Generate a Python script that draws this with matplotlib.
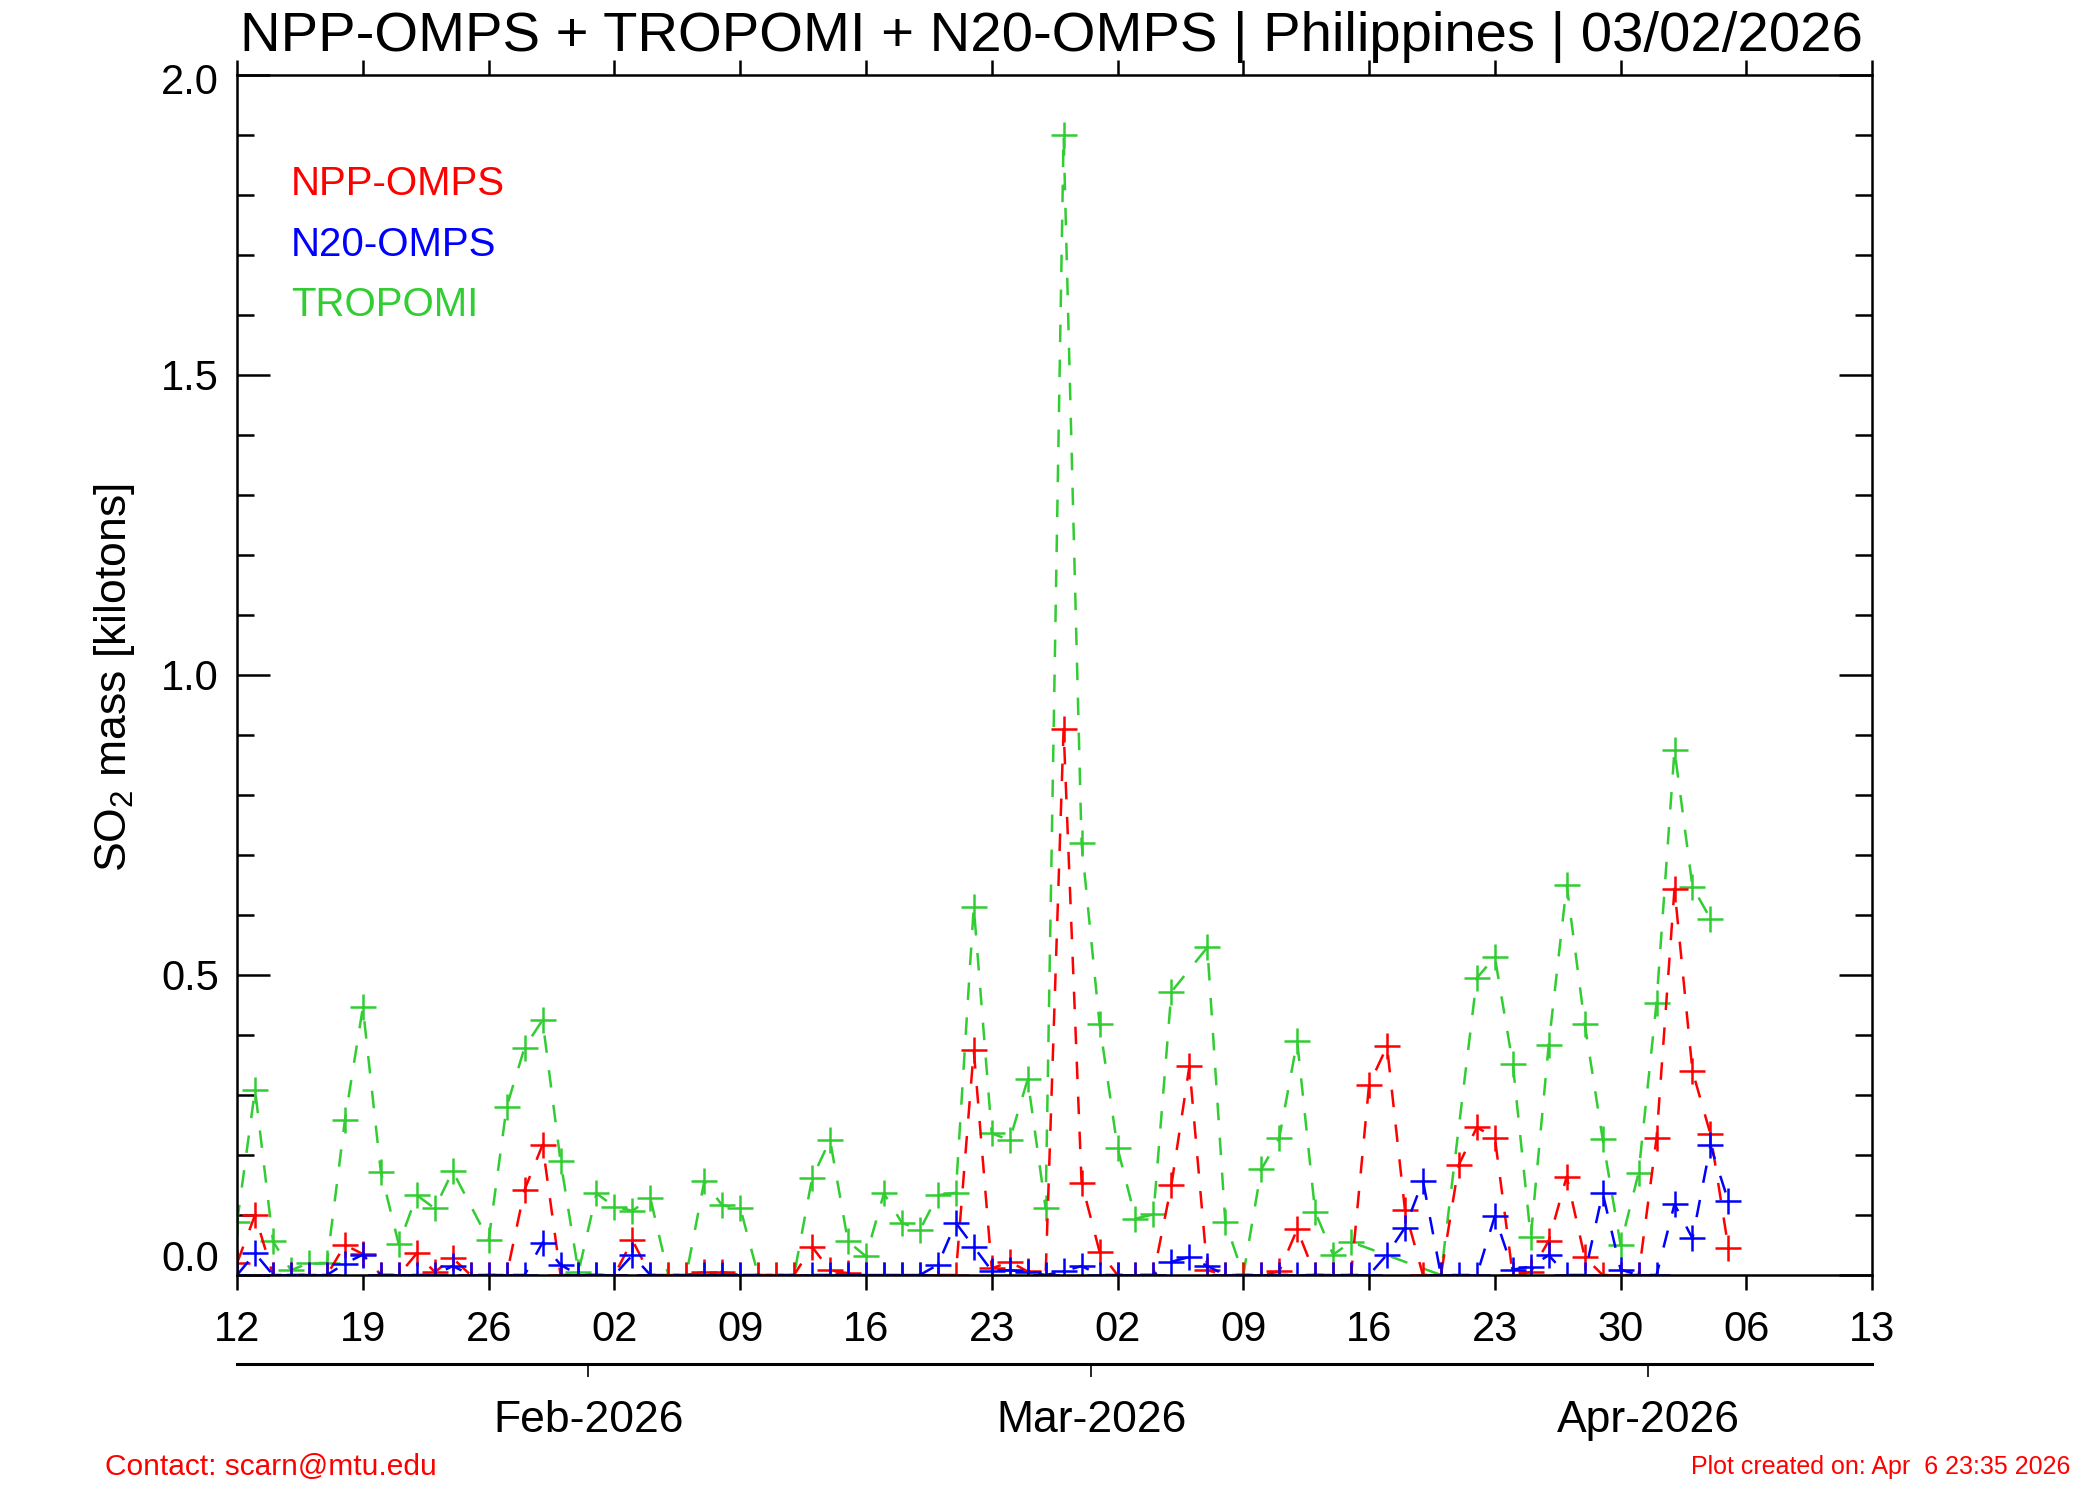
import numpy as np
import matplotlib
matplotlib.use('Agg')
import matplotlib.pyplot as plt
import matplotlib.dates as mdates
from matplotlib.transforms import ScaledTranslation, blended_transform_factory

plt.rcParams['font.family'] = ['Liberation Sans', 'DejaVu Sans']
plt.rcParams['mathtext.fontset'] = 'custom'
plt.rcParams['mathtext.rm'] = 'Liberation Sans'

nan = np.nan

# one value per day, 12 Jan 2026 .. 05 Apr 2026 (nan = no data that day)
days = np.arange(np.datetime64('2026-01-12'), np.datetime64('2026-04-06'))

npp_omps = [0.02, 0.10, 0.0, 0.0, 0.0, 0.0, 0.05, 0.035, 0.0, 0.0,
            0.036, 0.005, 0.028, 0.0, 0.0, 0.0, 0.142, 0.217, 0.0, 0.0,
            0.0, 0.0, 0.058, 0.0, 0.0, 0.0, 0.005, 0.005, 0.0, 0.0,
            0.0, 0.0, 0.047, 0.008, 0.003, 0.0, 0.0, 0.0, 0.0, 0.0,
            0.0, 0.375, 0.011, 0.022, 0.006, 0.0, 0.91, 0.154, 0.039, 0.0,
            0.0, 0.0, 0.15, 0.348, 0.008, 0.0, 0.0, 0.0, 0.006, 0.076,
            0.0, 0.0, 0.0, 0.317, 0.381, 0.108, 0.0, 0.0, 0.184, 0.246,
            0.229, 0.0, 0.005, 0.057, 0.164, 0.03, 0.0, 0.0, 0.0, 0.228,
            0.644, 0.34, 0.235, 0.045]

n20_omps = [0.0, 0.036, 0.0, 0.0, 0.0, 0.0, 0.019, 0.034, 0.0, 0.0,
            0.0, 0.0, 0.015, 0.0, 0.0, 0.0, 0.0, 0.054, 0.017, 0.0,
            0.0, 0.0, 0.033, 0.0, nan, nan, 0.0, 0.0, 0.0, nan,
            nan, nan, 0.0, 0.0, 0.0, 0.0, 0.0, 0.0, 0.0, 0.017,
            0.087, 0.047, 0.007, 0.008, 0.005, 0.0, 0.006, 0.015, 0.0, 0.0,
            0.0, 0.0, 0.022, 0.03, 0.015, 0.0, nan, 0.0, 0.0, 0.0,
            0.0, 0.0, 0.0, 0.0, 0.034, 0.079, 0.157, 0.0, 0.0, 0.0,
            0.098, 0.009, 0.014, 0.033, 0.0, 0.0, 0.137, 0.009, 0.0, 0.0,
            0.118, 0.061, 0.216, 0.123]

tropomi = [0.088, 0.309, 0.056, 0.008, 0.02, 0.02, 0.258, 0.446, 0.172, 0.051,
           0.133, 0.111, 0.173, nan, 0.058, 0.28, 0.379, 0.425, 0.19, 0.005,
           0.136, 0.114, 0.107, 0.128, 0.0, 0.0, 0.156, 0.116, 0.112, 0.0,
           0.0, 0.0, 0.161, 0.225, 0.056, 0.031, 0.136, 0.087, 0.075, 0.133,
           0.137, 0.614, 0.236, 0.225, 0.326, 0.111, 1.90, 0.72, 0.419, 0.212,
           0.094, 0.101, 0.472, nan, 0.546, 0.088, 0.0, 0.176, 0.228, 0.39,
           0.105, 0.034, 0.055, nan, nan, nan, nan, 0.0, nan, 0.495,
           0.53, 0.352, 0.063, 0.384, 0.65, 0.419, 0.227, 0.05, 0.17, 0.454,
           0.875, 0.647, 0.594, nan]

month_starts = ['2026-02-01', '2026-03-01', '2026-04-01']
month_labels = ['Feb-2026', 'Mar-2026', 'Apr-2026']
y_ticks = [0.0, 0.5, 1.0, 1.5, 2.0]

series = [('TROPOMI', tropomi, '#32cd32'),
          ('NPP-OMPS', npp_omps, '#ff0000'),
          ('N20-OMPS', n20_omps, '#0000ff')]

fig = plt.figure(figsize=(21, 15), dpi=100)
left, bottom, width, height = 0.1129, 0.15, 0.7786, 0.80
ax = fig.add_axes([left, bottom, width, height])

for name, vals, col in series:
    v = np.array(vals, dtype=float)
    ok = ~np.isnan(v)
    ax.plot(days[ok], v[ok], color=col, linestyle='--', dashes=(7, 7),
            linewidth=1.8, marker='+', markersize=19, markeredgewidth=1.8)

xmin, xmax = np.datetime64('2026-01-12'), np.datetime64('2026-04-13')
ax.set_xlim(xmin, xmax)
ax.set_ylim(y_ticks[0], y_ticks[-1])

ax.xaxis.set_major_locator(mdates.WeekdayLocator(byweekday=mdates.MO))
ax.xaxis.set_major_formatter(mdates.DateFormatter('%d'))
ax.yaxis.set_minor_locator(plt.MultipleLocator(0.1))
# the two end labels are drawn separately, nudged inside the axis range
ax.set_yticks(y_ticks)
ax.set_yticklabels([''] + ['%.1f' % t for t in y_ticks[1:-1]] + [''])

ax.tick_params(axis='x', which='major', direction='out', top=True, labeltop=False,
               length=11, width=1.8, pad=14, labelsize=30)
ax.tick_params(axis='y', which='major', direction='in', right=True,
               length=24, width=1.8, pad=13, labelsize=30)
ax.tick_params(axis='y', which='minor', direction='in', right=True,
               length=12, width=1.8)
for s in ax.spines.values():
    s.set_linewidth(1.8)

ytrans = blended_transform_factory(ax.transAxes, ax.transData)
for val, dy in [(y_ticks[0], 0.15), (y_ticks[-1], -0.08)]:
    ax.text(-0.011, val, '%.1f' % val, fontsize=30, ha='right', va='center',
            transform=ytrans + ScaledTranslation(0, dy, fig.dpi_scale_trans))

# legend as coloured text
for i, (name, col) in enumerate([('NPP-OMPS', '#ff0000'), ('N20-OMPS', '#0000ff'),
                                 ('TROPOMI', '#32cd32')]):
    ax.text(0.033, 0.909 - i * 0.0505, name, color=col, fontsize=29,
            transform=ax.transAxes, ha='left', va='center')

fig.text(0.5005, 0.966, 'NPP-OMPS + TROPOMI + N20-OMPS | Philippines | 03/02/2026',
         fontsize=40.5, ha='center', va='baseline')
fig.text(0.0543, 0.5485, r'SO$_2$ mass [kilotons]', fontsize=32, rotation=90,
         ha='center', va='center')

# month axis below the plot
ax2 = fig.add_axes([left, 0.0907, width, 0.0001])
ax2.set_xlim(xmin, xmax)
ax2.patch.set_visible(False)
for k in ['left', 'right', 'top']:
    ax2.spines[k].set_visible(False)
ax2.spines['bottom'].set_linewidth(2.2)
ax2.set_yticks([])
mpos = [mdates.date2num(np.datetime64(m)) - 0.45 for m in month_starts]
ax2.set_xticks(mpos)
ax2.set_xticklabels(month_labels)
ax2.tick_params(axis='x', direction='out', length=9, width=1.2, pad=17, labelsize=32)

fig.text(105 / 2100, 0.022, 'Contact: scarn@mtu.edu', color='red', fontsize=21.5,
         ha='left', va='center')
fig.text(2070 / 2100, 0.022, 'Plot created on: Apr  6 23:35 2026', color='red',
         fontsize=18, ha='right', va='center')

fig.savefig('out.png', dpi=100)
